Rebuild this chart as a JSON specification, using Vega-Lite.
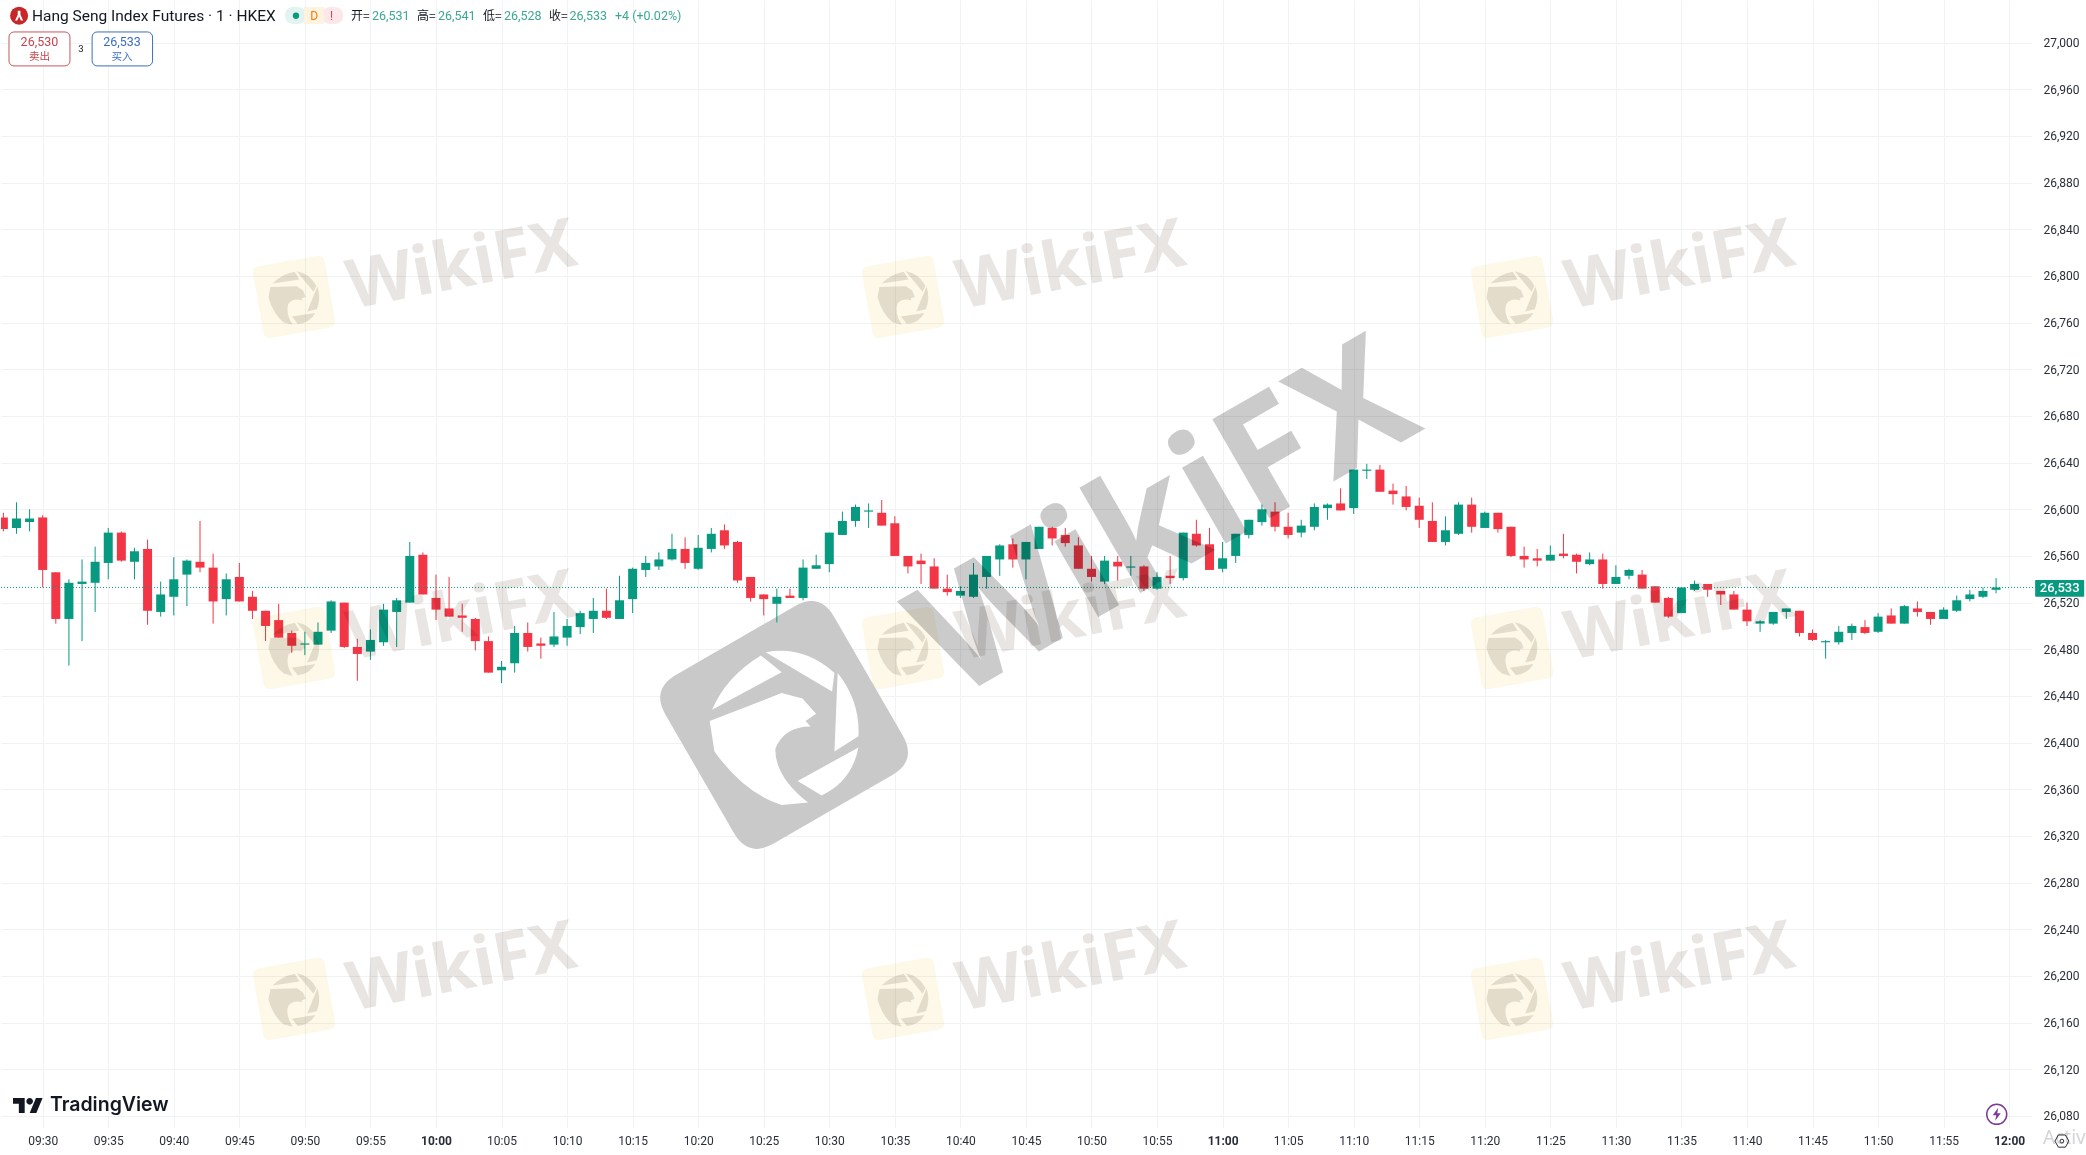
{
"$schema":"https://vega.github.io/schema/vega-lite/v6.json",
"width":2031,"height":1128,
"padding":0,
"background":"#ffffff",
"config":{"view":{"stroke":null},"font":"Roboto"},
"datasets":{"candles":[
{"t":567,"open":26593,"high":26597,"low":26581,"close":26583,"dir":"down"},
{"t":568,"open":26584,"high":26606,"low":26579,"close":26592,"dir":"up"},
{"t":569,"open":26589,"high":26600,"low":26581,"close":26592,"dir":"up"},
{"t":570,"open":26593,"high":26595,"low":26533,"close":26548,"dir":"down"},
{"t":571,"open":26546,"high":26546,"low":26502,"close":26506,"dir":"down"},
{"t":572,"open":26506,"high":26540,"low":26466,"close":26537,"dir":"up"},
{"t":573,"open":26536,"high":26557,"low":26487,"close":26538,"dir":"up"},
{"t":574,"open":26537,"high":26568,"low":26512,"close":26555,"dir":"up"},
{"t":575,"open":26554,"high":26584,"low":26540,"close":26580,"dir":"up"},
{"t":576,"open":26580,"high":26581,"low":26555,"close":26556,"dir":"down"},
{"t":577,"open":26555,"high":26567,"low":26540,"close":26564,"dir":"up"},
{"t":578,"open":26566,"high":26574,"low":26501,"close":26513,"dir":"down"},
{"t":579,"open":26512,"high":26538,"low":26508,"close":26527,"dir":"up"},
{"t":580,"open":26525,"high":26559,"low":26509,"close":26540,"dir":"up"},
{"t":581,"open":26544,"high":26557,"low":26517,"close":26556,"dir":"up"},
{"t":582,"open":26555,"high":26590,"low":26546,"close":26550,"dir":"down"},
{"t":583,"open":26550,"high":26562,"low":26502,"close":26521,"dir":"down"},
{"t":584,"open":26523,"high":26545,"low":26509,"close":26540,"dir":"up"},
{"t":585,"open":26542,"high":26554,"low":26521,"close":26521,"dir":"down"},
{"t":586,"open":26525,"high":26530,"low":26506,"close":26513,"dir":"down"},
{"t":587,"open":26513,"high":26513,"low":26487,"close":26500,"dir":"down"},
{"t":588,"open":26505,"high":26519,"low":26490,"close":26490,"dir":"down"},
{"t":589,"open":26494,"high":26496,"low":26477,"close":26483,"dir":"down"},
{"t":590,"open":26484,"high":26495,"low":26475,"close":26485,"dir":"up"},
{"t":591,"open":26484,"high":26503,"low":26484,"close":26495,"dir":"up"},
{"t":592,"open":26496,"high":26522,"low":26494,"close":26521,"dir":"up"},
{"t":593,"open":26520,"high":26520,"low":26481,"close":26482,"dir":"down"},
{"t":594,"open":26482,"high":26489,"low":26453,"close":26476,"dir":"down"},
{"t":595,"open":26478,"high":26497,"low":26471,"close":26488,"dir":"up"},
{"t":596,"open":26486,"high":26519,"low":26483,"close":26514,"dir":"up"},
{"t":597,"open":26512,"high":26524,"low":26482,"close":26522,"dir":"up"},
{"t":598,"open":26520,"high":26572,"low":26520,"close":26560,"dir":"up"},
{"t":599,"open":26561,"high":26563,"low":26527,"close":26527,"dir":"down"},
{"t":600,"open":26524,"high":26544,"low":26505,"close":26514,"dir":"down"},
{"t":601,"open":26515,"high":26542,"low":26508,"close":26508,"dir":"down"},
{"t":602,"open":26509,"high":26519,"low":26495,"close":26507,"dir":"down"},
{"t":603,"open":26506,"high":26507,"low":26479,"close":26487,"dir":"down"},
{"t":604,"open":26487,"high":26491,"low":26460,"close":26460,"dir":"down"},
{"t":605,"open":26462,"high":26470,"low":26451,"close":26465,"dir":"up"},
{"t":606,"open":26468,"high":26500,"low":26460,"close":26494,"dir":"up"},
{"t":607,"open":26494,"high":26503,"low":26478,"close":26482,"dir":"down"},
{"t":608,"open":26485,"high":26490,"low":26472,"close":26483,"dir":"down"},
{"t":609,"open":26484,"high":26512,"low":26482,"close":26491,"dir":"up"},
{"t":610,"open":26490,"high":26506,"low":26483,"close":26500,"dir":"up"},
{"t":611,"open":26499,"high":26513,"low":26493,"close":26511,"dir":"up"},
{"t":612,"open":26506,"high":26524,"low":26494,"close":26513,"dir":"up"},
{"t":613,"open":26513,"high":26532,"low":26506,"close":26507,"dir":"down"},
{"t":614,"open":26506,"high":26543,"low":26506,"close":26522,"dir":"up"},
{"t":615,"open":26523,"high":26550,"low":26511,"close":26549,"dir":"up"},
{"t":616,"open":26548,"high":26560,"low":26542,"close":26554,"dir":"up"},
{"t":617,"open":26551,"high":26563,"low":26548,"close":26557,"dir":"up"},
{"t":618,"open":26557,"high":26579,"low":26556,"close":26566,"dir":"up"},
{"t":619,"open":26566,"high":26576,"low":26549,"close":26554,"dir":"down"},
{"t":620,"open":26549,"high":26578,"low":26548,"close":26567,"dir":"up"},
{"t":621,"open":26566,"high":26584,"low":26563,"close":26579,"dir":"up"},
{"t":622,"open":26582,"high":26587,"low":26566,"close":26569,"dir":"down"},
{"t":623,"open":26572,"high":26573,"low":26537,"close":26539,"dir":"down"},
{"t":624,"open":26542,"high":26542,"low":26521,"close":26524,"dir":"down"},
{"t":625,"open":26527,"high":26527,"low":26509,"close":26523,"dir":"down"},
{"t":626,"open":26519,"high":26532,"low":26503,"close":26525,"dir":"up"},
{"t":627,"open":26526,"high":26532,"low":26524,"close":26524,"dir":"down"},
{"t":628,"open":26524,"high":26557,"low":26522,"close":26550,"dir":"up"},
{"t":629,"open":26549,"high":26561,"low":26549,"close":26552,"dir":"up"},
{"t":630,"open":26553,"high":26580,"low":26546,"close":26580,"dir":"up"},
{"t":631,"open":26578,"high":26598,"low":26578,"close":26590,"dir":"up"},
{"t":632,"open":26590,"high":26604,"low":26585,"close":26602,"dir":"up"},
{"t":633,"open":26598,"high":26605,"low":26584,"close":26599,"dir":"up"},
{"t":634,"open":26597,"high":26608,"low":26586,"close":26586,"dir":"down"},
{"t":635,"open":26588,"high":26594,"low":26560,"close":26560,"dir":"down"},
{"t":636,"open":26560,"high":26560,"low":26545,"close":26551,"dir":"down"},
{"t":637,"open":26556,"high":26562,"low":26536,"close":26553,"dir":"down"},
{"t":638,"open":26551,"high":26558,"low":26532,"close":26532,"dir":"down"},
{"t":639,"open":26532,"high":26544,"low":26526,"close":26529,"dir":"down"},
{"t":640,"open":26526,"high":26534,"low":26524,"close":26530,"dir":"up"},
{"t":641,"open":26525,"high":26554,"low":26524,"close":26544,"dir":"up"},
{"t":642,"open":26542,"high":26560,"low":26532,"close":26560,"dir":"up"},
{"t":643,"open":26557,"high":26570,"low":26543,"close":26569,"dir":"up"},
{"t":644,"open":26570,"high":26575,"low":26550,"close":26557,"dir":"down"},
{"t":645,"open":26557,"high":26572,"low":26540,"close":26572,"dir":"up"},
{"t":646,"open":26566,"high":26585,"low":26566,"close":26585,"dir":"up"},
{"t":647,"open":26584,"high":26585,"low":26569,"close":26575,"dir":"down"},
{"t":648,"open":26578,"high":26584,"low":26568,"close":26571,"dir":"down"},
{"t":649,"open":26569,"high":26576,"low":26549,"close":26549,"dir":"down"},
{"t":650,"open":26549,"high":26560,"low":26538,"close":26542,"dir":"down"},
{"t":651,"open":26538,"high":26560,"low":26536,"close":26556,"dir":"up"},
{"t":652,"open":26555,"high":26560,"low":26539,"close":26551,"dir":"down"},
{"t":653,"open":26550,"high":26560,"low":26543,"close":26551,"dir":"up"},
{"t":654,"open":26551,"high":26552,"low":26530,"close":26532,"dir":"down"},
{"t":655,"open":26532,"high":26546,"low":26531,"close":26542,"dir":"up"},
{"t":656,"open":26543,"high":26560,"low":26536,"close":26541,"dir":"down"},
{"t":657,"open":26541,"high":26580,"low":26539,"close":26580,"dir":"up"},
{"t":658,"open":26579,"high":26591,"low":26568,"close":26569,"dir":"down"},
{"t":659,"open":26570,"high":26584,"low":26548,"close":26548,"dir":"down"},
{"t":660,"open":26549,"high":26572,"low":26546,"close":26558,"dir":"up"},
{"t":661,"open":26560,"high":26579,"low":26554,"close":26579,"dir":"up"},
{"t":662,"open":26578,"high":26591,"low":26575,"close":26591,"dir":"up"},
{"t":663,"open":26589,"high":26604,"low":26586,"close":26600,"dir":"up"},
{"t":664,"open":26598,"high":26606,"low":26581,"close":26585,"dir":"down"},
{"t":665,"open":26585,"high":26597,"low":26575,"close":26578,"dir":"down"},
{"t":666,"open":26580,"high":26591,"low":26576,"close":26586,"dir":"up"},
{"t":667,"open":26585,"high":26605,"low":26582,"close":26602,"dir":"up"},
{"t":668,"open":26601,"high":26605,"low":26591,"close":26604,"dir":"up"},
{"t":669,"open":26605,"high":26618,"low":26599,"close":26599,"dir":"down"},
{"t":670,"open":26601,"high":26634,"low":26596,"close":26634,"dir":"up"},
{"t":671,"open":26633,"high":26639,"low":26626,"close":26634,"dir":"up"},
{"t":672,"open":26634,"high":26638,"low":26615,"close":26615,"dir":"down"},
{"t":673,"open":26616,"high":26622,"low":26604,"close":26613,"dir":"down"},
{"t":674,"open":26611,"high":26620,"low":26599,"close":26602,"dir":"down"},
{"t":675,"open":26603,"high":26610,"low":26584,"close":26591,"dir":"down"},
{"t":676,"open":26590,"high":26606,"low":26572,"close":26572,"dir":"down"},
{"t":677,"open":26572,"high":26594,"low":26569,"close":26582,"dir":"up"},
{"t":678,"open":26579,"high":26606,"low":26578,"close":26604,"dir":"up"},
{"t":679,"open":26604,"high":26610,"low":26580,"close":26585,"dir":"down"},
{"t":680,"open":26584,"high":26598,"low":26584,"close":26597,"dir":"up"},
{"t":681,"open":26597,"high":26597,"low":26580,"close":26583,"dir":"down"},
{"t":682,"open":26585,"high":26585,"low":26559,"close":26560,"dir":"down"},
{"t":683,"open":26560,"high":26568,"low":26550,"close":26557,"dir":"down"},
{"t":684,"open":26558,"high":26566,"low":26551,"close":26556,"dir":"down"},
{"t":685,"open":26556,"high":26569,"low":26556,"close":26561,"dir":"up"},
{"t":686,"open":26562,"high":26579,"low":26558,"close":26560,"dir":"down"},
{"t":687,"open":26561,"high":26562,"low":26545,"close":26555,"dir":"down"},
{"t":688,"open":26553,"high":26563,"low":26552,"close":26557,"dir":"up"},
{"t":689,"open":26557,"high":26562,"low":26532,"close":26536,"dir":"down"},
{"t":690,"open":26536,"high":26552,"low":26536,"close":26542,"dir":"up"},
{"t":691,"open":26543,"high":26549,"low":26540,"close":26548,"dir":"up"},
{"t":692,"open":26544,"high":26548,"low":26532,"close":26532,"dir":"down"},
{"t":693,"open":26534,"high":26534,"low":26520,"close":26520,"dir":"down"},
{"t":694,"open":26524,"high":26525,"low":26507,"close":26508,"dir":"down"},
{"t":695,"open":26511,"high":26533,"low":26511,"close":26533,"dir":"up"},
{"t":696,"open":26531,"high":26539,"low":26530,"close":26536,"dir":"up"},
{"t":697,"open":26536,"high":26536,"low":26525,"close":26531,"dir":"down"},
{"t":698,"open":26530,"high":26530,"low":26518,"close":26527,"dir":"down"},
{"t":699,"open":26527,"high":26530,"low":26514,"close":26514,"dir":"down"},
{"t":700,"open":26514,"high":26520,"low":26500,"close":26504,"dir":"down"},
{"t":701,"open":26502,"high":26505,"low":26495,"close":26504,"dir":"up"},
{"t":702,"open":26502,"high":26512,"low":26501,"close":26512,"dir":"up"},
{"t":703,"open":26512,"high":26515,"low":26506,"close":26515,"dir":"up"},
{"t":704,"open":26513,"high":26513,"low":26491,"close":26494,"dir":"down"},
{"t":705,"open":26494,"high":26497,"low":26487,"close":26488,"dir":"down"},
{"t":706,"open":26486,"high":26488,"low":26472,"close":26487,"dir":"up"},
{"t":707,"open":26486,"high":26500,"low":26484,"close":26495,"dir":"up"},
{"t":708,"open":26494,"high":26502,"low":26488,"close":26500,"dir":"up"},
{"t":709,"open":26499,"high":26505,"low":26493,"close":26494,"dir":"down"},
{"t":710,"open":26495,"high":26511,"low":26494,"close":26508,"dir":"up"},
{"t":711,"open":26509,"high":26515,"low":26502,"close":26502,"dir":"down"},
{"t":712,"open":26502,"high":26518,"low":26502,"close":26517,"dir":"up"},
{"t":713,"open":26515,"high":26521,"low":26508,"close":26512,"dir":"down"},
{"t":714,"open":26512,"high":26512,"low":26501,"close":26506,"dir":"down"},
{"t":715,"open":26506,"high":26516,"low":26506,"close":26514,"dir":"up"},
{"t":716,"open":26513,"high":26526,"low":26512,"close":26522,"dir":"up"},
{"t":717,"open":26523,"high":26531,"low":26521,"close":26527,"dir":"up"},
{"t":718,"open":26525,"high":26533,"low":26524,"close":26530,"dir":"up"},
{"t":719,"open":26531,"high":26541,"low":26528,"close":26533,"dir":"up"}
],
"wmLogos":[
{"t":589.17,"p":26782.0},{"t":635.63,"p":26782.0},{"t":682.08,"p":26782.0},
{"t":589.17,"p":26481.1},{"t":635.63,"p":26481.1},{"t":682.08,"p":26481.1},
{"t":589.17,"p":26180.3},{"t":635.63,"p":26180.3},{"t":682.08,"p":26180.3}],
"wmTexts":[
{"t":601.98,"p":26807.7,"label":"WikiFX"},{"t":648.45,"p":26807.7,"label":"WikiFX"},{"t":694.9,"p":26807.7,"label":"WikiFX"},
{"t":601.98,"p":26506.8,"label":"WikiFX"},{"t":648.45,"p":26506.8,"label":"WikiFX"},{"t":694.9,"p":26506.8,"label":"WikiFX"},
{"t":601.98,"p":26206.0,"label":"WikiFX"},{"t":648.45,"p":26206.0,"label":"WikiFX"},{"t":694.9,"p":26206.0,"label":"WikiFX"}]
},
"data":{"name":"candles"},
"encoding":{
"x":{"field":"t","type":"quantitative","title":null,
"scale":{"domain":[566.82,721.74],"nice":false,"zero":false,"padding":0},
"axis":{"values":[570,575,580,585,590,595,600,605,610,615,620,625,630,635,640,645,650,655,660,665,670,675,680,685,690,695,700,705,710,715,720],
"labelExpr":"(floor(datum.value/60)<10?'0':'')+floor(datum.value/60)+':'+(datum.value%60<10?'0':'')+(datum.value%60)",
"labelOverlap":false,"labelFlush":false,"labelBound":false,"domain":false,"ticks":false,"grid":true,"gridColor":"#f1f2f4","gridWidth":1,"labelPadding":7,"labelFontSize":12,"labelFont":"Roboto","labelColor":"#2a2e39","labelFontWeight":{"condition":{"test":"datum.value%60===0","value":"bold"},"value":"normal"},"title":null,"zindex":0}},
"y":{"field":"p","type":"quantitative","title":null,
"scale":{"domain":[26069.7,27036.5],"nice":false,"zero":false,"padding":0},
"axis":{"orient":"right","values":[26080,26120,26160,26200,26240,26280,26320,26360,26400,26440,26480,26520,26560,26600,26640,26680,26720,26760,26800,26840,26880,26920,26960,27000],"format":",d","domain":false,"ticks":false,"grid":true,"gridColor":"#f1f2f4","gridWidth":1,"labelPadding":11,"labelFontSize":12,"labelFont":"Roboto","labelColor":"#2a2e39","labelOverlap":false,"labelFlush":false,"labelBound":false,"title":null,"zindex":0}}
},
"layer":[
{"data":{"values":[{"t":626.55,"p":26415.1}]},
 "mark":{"type":"point","filled":true,"opacity":1,"color":"#c9c9c9","size":38025,"angle":-30,"shape":"M -0.7,-1 L 0.7,-1 Q 1,-1 1,-0.7 L 1,0.7 Q 1,1 0.7,1 L -0.7,1 Q -1,1 -1,0.7 L -1,-0.7 Q -1,-1 -0.7,-1 Z"}},
{"data":{"values":[{"t":626.55,"p":26415.1}]},
 "mark":{"type":"point","filled":true,"opacity":1,"color":"#ffffff","size":25600,"shape":"M -0.9,-0.19 Q -0.73,-0.6 -0.29,-0.87 L -0.03,-0.66 Z M -0.23,-0.91 Q 0.25,-1.0 0.63,-0.65 L 0.6,-0.42 Z M 0.67,-0.65 Q 0.95,-0.3 0.93,0.14 L 0.63,0.33 Z M 0.93,0.28 Q 0.85,0.7 0.47,0.88 L 0.17,0.7 Z M -0.93,-0.05 L -0.03,-0.4 L 0.23,-0.33 L 0.4,-0.14 L 0.27,-0.05 L 0.33,0.02 Q 0,0.02 -0.11,0.3 Q -0.11,0.65 0.3,0.97 L -0.03,1 Q -0.5,0.85 -0.87,0.33 Z"}},
{"mark":{"type":"rule","strokeWidth":1,"clip":true},
 "encoding":{"y":{"field":"low","type":"quantitative"},"y2":{"field":"high"},
 "color":{"field":"dir","type":"nominal","legend":null,"scale":{"domain":["up","down"],"range":["#089981","#F23645"]}}}},
{"mark":{"type":"bar","size":9,"orient":"vertical","clip":true},
 "encoding":{"y":{"field":"open","type":"quantitative"},"y2":{"field":"close"},
 "color":{"field":"dir","type":"nominal","legend":null}}},
{"data":{"values":[{"t":566.82,"t2":721.98,"p":26533}]},
 "mark":{"type":"rule","color":"#089981","strokeWidth":1,"strokeDash":[1,2]},
 "encoding":{"x2":{"field":"t2"}}},
{"data":{"values":[{"t":655.68,"p":26588.5,"label":"WikiFX"}]},
 "mark":{"type":"text","font":"Noto Sans","fontWeight":700,"fontSize":160,"angle":-30,"align":"center","baseline":"middle","color":"#cbcbcb","blend":"multiply"},
 "encoding":{"text":{"field":"label"}}},
{"data":{"name":"wmLogos"},
 "mark":{"type":"point","filled":true,"opacity":1,"color":"#fdf8e7","size":5300,"angle":-10,"blend":"multiply","shape":"M -0.8,-1 L 0.8,-1 Q 1,-1 1,-0.8 L 1,0.8 Q 1,1 0.8,1 L -0.8,1 Q -1,1 -1,0.8 L -1,-0.8 Q -1,-1 -0.8,-1 Z"}},
{"data":{"name":"wmLogos"},
 "mark":{"type":"point","filled":true,"opacity":1,"color":"#e6e3df","size":3025,"angle":20,"blend":"multiply","shape":"M -0.9,-0.19 Q -0.73,-0.6 -0.29,-0.87 L -0.03,-0.66 Z M -0.23,-0.91 Q 0.25,-1.0 0.63,-0.65 L 0.6,-0.42 Z M 0.67,-0.65 Q 0.95,-0.3 0.93,0.14 L 0.63,0.33 Z M 0.93,0.28 Q 0.85,0.7 0.47,0.88 L 0.17,0.7 Z M -0.93,-0.05 L -0.03,-0.4 L 0.23,-0.33 L 0.4,-0.14 L 0.27,-0.05 L 0.33,0.02 Q 0,0.02 -0.11,0.3 Q -0.11,0.65 0.3,0.97 L -0.03,1 Q -0.5,0.85 -0.87,0.33 Z"}},
{"data":{"name":"wmTexts"},
 "mark":{"type":"text","font":"Noto Sans","fontWeight":700,"fontSize":68,"angle":-11,"align":"center","baseline":"middle","color":"#e8e5e2","blend":"multiply"},
 "encoding":{"text":{"field":"label"}}},
{"data":{"values":[{"t":568.2,"p":27023.1}]},
 "mark":{"type":"point","filled":true,"opacity":1,"color":"#c62828","size":324,"shape":"circle"}},
{"data":{"values":[{"t":568.2,"p":27023.1}]},
 "mark":{"type":"point","filled":true,"opacity":1,"color":"#ffffff","size":324,"shape":"M -0.15,-0.55 L 0.15,-0.55 L 0.15,-0.1 L 0.45,0.55 L 0.2,0.55 L 0,0.1 L -0.2,0.55 L -0.45,0.55 L -0.15,-0.1 Z"}},
{"data":{"values":[{"t":569.18,"p":27022.8,"label":"Hang Seng Index Futures · 1 · HKEX"}]},
 "mark":{"type":"text","font":"Roboto","fontSize":15.5,"align":"left","baseline":"middle","color":"#131722"},
 "encoding":{"text":{"field":"label"}}},
{"data":{"values":[{"t":588.48,"t2":590.08,"p":27030.5,"p2":27016.0}]},
 "mark":{"type":"rect","color":"#e3f3f0","cornerRadius":8},
 "encoding":{"x2":{"field":"t2"},"y2":{"field":"p2"}}},
{"data":{"values":[{"t":591.3,"t2":592.92,"p":27030.5,"p2":27016.0}]},
 "mark":{"type":"rect","color":"#fce8ea","cornerRadius":8},
 "encoding":{"x2":{"field":"t2"},"y2":{"field":"p2"}}},
{"data":{"values":[{"t":589.93,"t2":591.47,"p":27030.5,"p2":27016.0}]},
 "mark":{"type":"rect","color":"#fef3e0"},
 "encoding":{"x2":{"field":"t2"},"y2":{"field":"p2"}}},
{"data":{"values":[{"t":589.32,"p":27023.0}]},
 "mark":{"type":"point","filled":true,"opacity":1,"color":"#089981","size":40,"shape":"circle"}},
{"data":{"values":[{"t":590.7,"p":27022.8,"label":"D"}]},
 "mark":{"type":"text","font":"Roboto","fontSize":12,"align":"center","baseline":"middle","color":"#f57c00"},
 "encoding":{"text":{"field":"label"}}},
{"data":{"values":[{"t":592.03,"p":27022.8,"label":"!"}]},
 "mark":{"type":"text","font":"Roboto","fontSize":12,"align":"center","baseline":"middle","color":"#f23645"},
 "encoding":{"text":{"field":"label"}}},
{"data":{"values":[
 {"t":593.52,"p":27022.8,"label":"开="},
 {"t":598.55,"p":27022.8,"label":"高="},
 {"t":603.58,"p":27022.8,"label":"低="},
 {"t":608.62,"p":27022.8,"label":"收="}]},
 "mark":{"type":"text","font":"Noto Sans CJK SC","fontSize":12,"align":"left","baseline":"middle","color":"#131722"},
 "encoding":{"text":{"field":"label"}}},
{"data":{"values":[
 {"t":595.12,"p":27022.8,"label":"26,531"},
 {"t":600.15,"p":27022.8,"label":"26,541"},
 {"t":605.18,"p":27022.8,"label":"26,528"},
 {"t":610.18,"p":27022.8,"label":"26,533"},
 {"t":613.65,"p":27022.8,"label":"+4 (+0.02%)"}]},
 "mark":{"type":"text","font":"Roboto","fontSize":12.5,"align":"left","baseline":"middle","color":"#3aa893"},
 "encoding":{"text":{"field":"label"}}},
{"data":{"values":[{"t":567.43,"t2":572.08,"p":27009.1,"p2":26980.0}]},
 "mark":{"type":"rect","fill":"#ffffff","stroke":"#c9565f","strokeWidth":1,"cornerRadius":5},
 "encoding":{"x2":{"field":"t2"},"y2":{"field":"p2"}}},
{"data":{"values":[{"t":573.77,"t2":578.38,"p":27009.1,"p2":26980.0}]},
 "mark":{"type":"rect","fill":"#ffffff","stroke":"#3f6fb5","strokeWidth":1,"cornerRadius":5},
 "encoding":{"x2":{"field":"t2"},"y2":{"field":"p2"}}},
{"data":{"values":[{"t":569.75,"p":27000.5,"label":"26,530"}]},
 "mark":{"type":"text","font":"Roboto","fontSize":12.5,"align":"center","baseline":"middle","color":"#c4454f"},
 "encoding":{"text":{"field":"label"}}},
{"data":{"values":[{"t":569.75,"p":26987.7,"label":"卖出"}]},
 "mark":{"type":"text","font":"Noto Sans CJK SC","fontSize":10.5,"align":"center","baseline":"middle","color":"#c4454f"},
 "encoding":{"text":{"field":"label"}}},
{"data":{"values":[{"t":576.05,"p":27000.5,"label":"26,533"}]},
 "mark":{"type":"text","font":"Roboto","fontSize":12.5,"align":"center","baseline":"middle","color":"#3c6cc4"},
 "encoding":{"text":{"field":"label"}}},
{"data":{"values":[{"t":576.05,"p":26987.7,"label":"买入"}]},
 "mark":{"type":"text","font":"Noto Sans CJK SC","fontSize":10.5,"align":"center","baseline":"middle","color":"#3c6cc4"},
 "encoding":{"text":{"field":"label"}}},
{"data":{"values":[{"t":572.92,"p":26994.5,"label":"3"}]},
 "mark":{"type":"text","font":"Roboto","fontSize":9.5,"align":"center","baseline":"middle","color":"#131722"},
 "encoding":{"text":{"field":"label"}}},
{"data":{"values":[{"t":721.98,"t2":725.72,"p":26539.4,"p2":26525.1}]},
 "mark":{"type":"rect","color":"#089981","cornerRadius":1},
 "encoding":{"x2":{"field":"t2"},"y2":{"field":"p2"}}},
{"data":{"values":[{"t":723.85,"p":26532.5,"label":"26,533"}]},
 "mark":{"type":"text","font":"Roboto","fontSize":13,"fontWeight":500,"align":"center","baseline":"middle","color":"#ffffff"},
 "encoding":{"text":{"field":"label"}}},
{"data":{"values":[{"t":568.88,"p":26089.0}]},
 "mark":{"type":"point","filled":true,"opacity":1,"color":"#131722","size":900,"shape":"M -0.222,0.5 L -0.611,0.5 L -0.611,-0.111 L -1,-0.111 L -1,-0.5 L -0.222,-0.5 Z M 0.556,0.5 L 0.111,0.5 L 0.528,-0.5 L 0.972,-0.5 Z M -0.111,-0.278 A 0.222,0.222 0 1,0 0.333,-0.278 A 0.222,0.222 0 1,0 -0.111,-0.278 Z"}},
{"data":{"values":[{"t":570.55,"p":26089.0,"label":"TradingView"}]},
 "mark":{"type":"text","font":"Inter","fontWeight":600,"fontSize":19.5,"align":"left","baseline":"middle","color":"#131722"},
 "encoding":{"text":{"field":"label"}}},
{"data":{"values":[{"t":719.05,"p":26081.4}]},
 "mark":{"type":"point","filled":true,"opacity":1,"fill":"#ffffff","stroke":"#7e3a96","strokeWidth":1.5,"size":400,"shape":"circle"}},
{"data":{"values":[{"t":719.05,"p":26081.4}]},
 "mark":{"type":"point","filled":true,"opacity":1,"color":"#7e3a96","size":400,"shape":"M 0.15,-0.65 L -0.4,0.1 L -0.05,0.1 L -0.15,0.65 L 0.4,-0.1 L 0.05,-0.1 Z"}},
{"data":{"values":[{"t":722.58,"p":26061.1,"label":"Activ"}]},
 "mark":{"type":"text","font":"Noto Sans","fontSize":19,"align":"left","baseline":"middle","color":"#d4d4d4"},
 "encoding":{"text":{"field":"label"}}},
{"data":{"values":[{"t":724.02,"p":26058.5}]},
 "mark":{"type":"point","filled":false,"opacity":1,"color":"#2a2e39","strokeWidth":1,"size":196,"shape":"M -0.5,-0.87 L 0.5,-0.87 L 1,0 L 0.5,0.87 L -0.5,0.87 L -1,0 Z"}},
{"data":{"values":[{"t":724.02,"p":26058.5}]},
 "mark":{"type":"point","filled":false,"opacity":1,"color":"#2a2e39","strokeWidth":1,"size":14,"shape":"circle"}}
]
}
